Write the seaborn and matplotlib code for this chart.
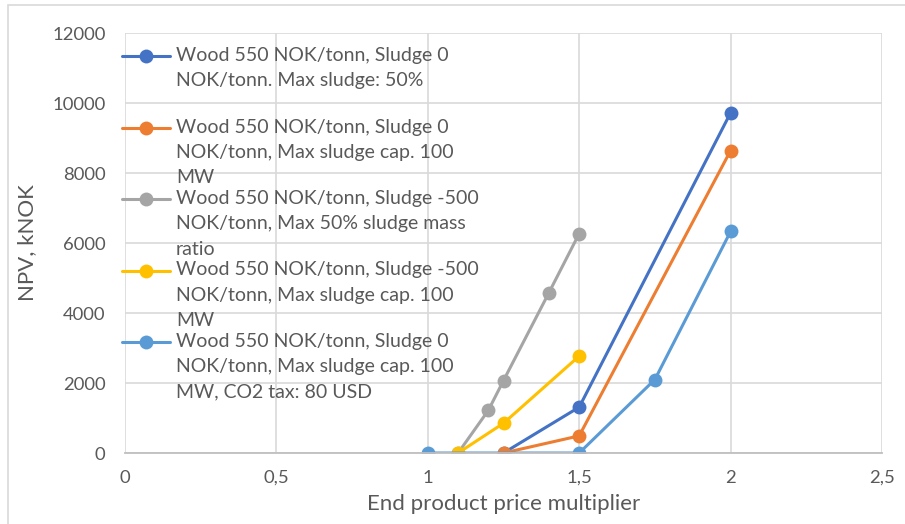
import matplotlib
matplotlib.use("Agg")
import matplotlib.pyplot as plt
from matplotlib.patches import Rectangle
import seaborn as sns
import pandas as pd

# ---- data ----
s1_x = [1.25, 1.5, 2.0]
s1_y = [0, 1310, 9720]
s2_x = [1.25, 1.5, 2.0]
s2_y = [0, 490, 8640]
s3_x = [1.1, 1.2, 1.25, 1.4, 1.5]
s3_y = [0, 1220, 2070, 4580, 6270]
s4_x = [1.1, 1.25, 1.5]
s4_y = [0, 850, 2770]
s5_x = [1.0, 1.5, 1.75, 2.0]
s5_y = [0, 0, 2100, 6330]

labels = [
    "Wood 550 NOK/tonn, Sludge 0\nNOK/tonn. Max sludge: 50%",
    "Wood 550 NOK/tonn, Sludge 0\nNOK/tonn, Max sludge cap. 100\nMW",
    "Wood 550 NOK/tonn, Sludge -500\nNOK/tonn, Max 50% sludge mass\nratio",
    "Wood 550 NOK/tonn, Sludge -500\nNOK/tonn, Max sludge cap. 100\nMW",
    "Wood 550 NOK/tonn, Sludge 0\nNOK/tonn, Max sludge cap. 100\nMW, CO2 tax: 80 USD",
]
colors = ["#4472C4", "#ED7D31", "#A5A5A5", "#FFC000", "#5B9BD5"]

x_ticks = [0, 0.5, 1, 1.5, 2, 2.5]
x_tick_labels = ["0", "0,5", "1", "1,5", "2", "2,5"]
y_ticks = [0, 2000, 4000, 6000, 8000, 10000, 12000]

frames = []
for i, (xs, ys) in enumerate([(s1_x, s1_y), (s2_x, s2_y), (s3_x, s3_y), (s4_x, s4_y), (s5_x, s5_y)]):
    frames.append(pd.DataFrame({"x": xs, "y": ys, "series": labels[i], "order": range(len(xs))}))
df = pd.concat(frames, ignore_index=True)

sns.set_theme(style="white")
plt.rcParams["font.family"] = ["Lato", "DejaVu Sans"]

fig = plt.figure(figsize=(9.05, 5.24), dpi=100)
ax = fig.add_axes([125 / 905, 1 - 453 / 524, (882 - 125) / 905, (453 - 33) / 524])

# chart frame
fig.patches.append(Rectangle((8 / 905, -0.1), 1.2, 1 - 5 / 524 + 0.1, transform=fig.transFigure,
                             fill=False, edgecolor="#D9D9D9", linewidth=1.2, zorder=0))

for lab, col in zip(labels, colors):
    sub = df[df["series"] == lab]
    sns.lineplot(data=sub, x="x", y="y", sort=False, ax=ax, color=col, linewidth=2.2,
                 marker="o", markersize=10, markeredgewidth=0, legend=False, estimator=None)

ax.set_xlim(0, 2.5)
ax.set_ylim(0, 12000)
ax.set_xticks(x_ticks)
ax.set_xticklabels(x_tick_labels)
ax.set_yticks(y_ticks)
ax.set_yticklabels([str(v) for v in y_ticks])
ax.grid(True, color="#D9D9D9", linewidth=1.2)
ax.set_axisbelow(True)
for sp in ["top", "right", "left"]:
    ax.spines[sp].set_visible(False)
ax.spines["bottom"].set_color("#BFBFBF")
ax.spines["bottom"].set_linewidth(1.3)
ax.tick_params(axis="both", length=0, labelsize=13.3, labelcolor="#595959")
ax.tick_params(axis="x", pad=12)
ax.tick_params(axis="y", pad=14)
ax.set_xlabel("End product price multiplier", fontsize=16, color="#595959", labelpad=6)
ax.set_ylabel("NPV, kNOK", fontsize=16, color="#595959", labelpad=11)

# legend (manual, Excel style overlapping entries)
y0 = 56
dy = 71.5
for i, (lab, col) in enumerate(zip(labels, colors)):
    yp = y0 + i * dy
    yf = 1 - yp / 524
    fig.add_artist(plt.Line2D([122 / 905, 170 / 905], [yf, yf], color=col, linewidth=2.2,
                              transform=fig.transFigure))
    fig.add_artist(plt.Line2D([146 / 905], [yf], color=col, marker="o", markersize=10,
                              markeredgewidth=0, transform=fig.transFigure))
    fig.text(176 / 905, yf + 9 / 524, lab, fontsize=14, color="#595959", va="top", ha="left",
             linespacing=1.6, transform=fig.transFigure)

fig.savefig("out.png", dpi=100)
